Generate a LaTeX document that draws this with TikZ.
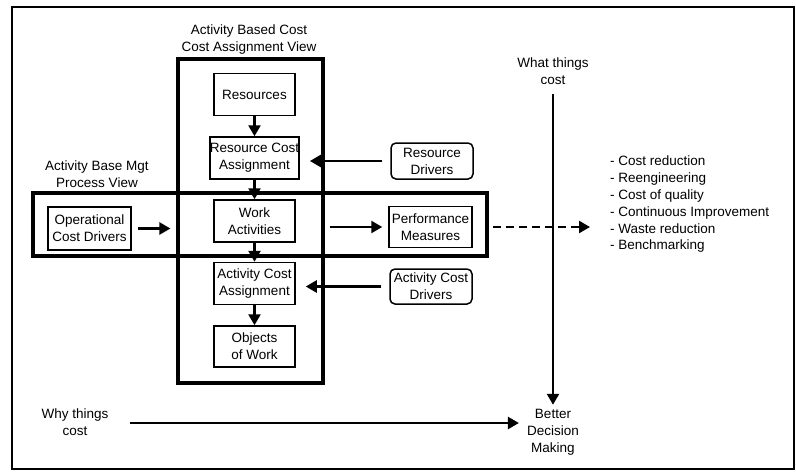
\documentclass[tikz,border=0pt]{standalone}
\usepackage{fontspec}
\setmainfont{Liberation Sans}
\usetikzlibrary{arrows.meta,calc}
\begin{document}
\begin{tikzpicture}[x=1pt,y=-1pt,
  every node/.style={font=\fontsize{13.5}{17}\selectfont, align=center, inner sep=0pt},
  sbox/.style={draw, line width=1.5pt, minimum width=81pt, minimum height=42pt},
  rbox/.style={draw, line width=1.5pt, rounded corners=5pt, minimum width=82pt, minimum height=35pt},
  arr/.style={line width=2.5pt, -{Triangle[length=11pt,width=12pt]}},
  lab/.style={}]
\useasboundingbox (0,0) rectangle (796,472);
\draw[line width=1.6pt] (12,7) rectangle (794,469);
% thick view frames
\node[draw, line width=3.2pt, minimum width=145pt, minimum height=324pt] (abc) at (250.5,221) {};
\node[draw, line width=3.2pt, minimum width=454pt, minimum height=63pt] (abm) at (260,224.5) {};
% labels
\node[lab] (abcl) at (249,40) {Activity Based Cost\\Cost Assignment View};
\node[lab] (abml) at (97,174) {Activity Base Mgt\\Process View};
\node[lab] (what) at (553,71) {What things\\cost};
\node[lab] (why) at (75,422) {Why things\\cost};
\node[lab] (bdm) at (553,432) {Better\\Decision\\Making};
% boxes
\node[sbox, fill=white] (res) at (254.5,94.5) {Resources};
\node[sbox, fill=white] (rca) at (254.5,158) {Resource Cost\\Assignment};
\node[sbox, fill=white] (wa) at (254.5,221) {Work\\Activities};
\node[sbox, fill=white] (aca) at (254.5,283.5) {Activity Cost\\Assignment};
\node[sbox, fill=white, minimum height=41pt] (obj) at (254.5,346.5) {Objects\\of Work};
\node[sbox, minimum width=83pt, minimum height=43pt] (ocd) at (89.5,228.5) {Operational\\Cost Drivers};
\node[sbox, minimum width=83pt, minimum height=41pt] (pm) at (430.5,227) {Performance\\Measures};
\node[rbox, minimum height=36pt] (rd) at (432,161) {Resource\\Drivers};
\node[rbox] (acd) at (431,286.5) {Activity Cost\\Drivers};
% list
\node[anchor=north west, align=left, font=\fontsize{13.5}{16.8}\selectfont] (list) at (610,156) {- Cost reduction\\- Reengineering\\- Cost of quality\\- Continuous Improvement\\- Waste reduction\\- Benchmarking};
% column arrows
\draw[arr] (res.south) -- (rca.north);
\draw[arr] (rca.south) -- (wa.north);
\draw[arr] (wa.south) -- (aca.north);
\draw[arr] (aca.south) -- (obj.north);
% side arrows
\draw[arr, shorten <=6pt, shorten >=6pt] (ocd.east) -- (ocd.east -| abc.west);
\draw[arr, shorten <=34pt, shorten >=6pt] (wa.east |- pm.west) -- (pm.west);
\draw[arr, shorten <=8pt, shorten >=10pt] (rd.west) -- (rd.west -| rca.east);
\draw[arr, shorten <=8pt, shorten >=10pt] (acd.west) -- (acd.west -| aca.east);
\coordinate (dashend) at (590,227);
\coordinate (dashmid) at (576,227);
\draw[line width=2.5pt, dash pattern=on 8pt off 5pt, shorten <=20pt] (pm.east) -- (dashmid);
\draw[arr] (dashmid) -- (dashend);
% cost arrows
\coordinate (whatb) at (553,94);
\draw[arr, shorten >=4pt] (whatb) -- (bdm.north);
\coordinate (whys) at (130,423);
\draw[arr, shorten >=8pt] (whys) -- (whys -| bdm.west);
\end{tikzpicture}
\end{document}
